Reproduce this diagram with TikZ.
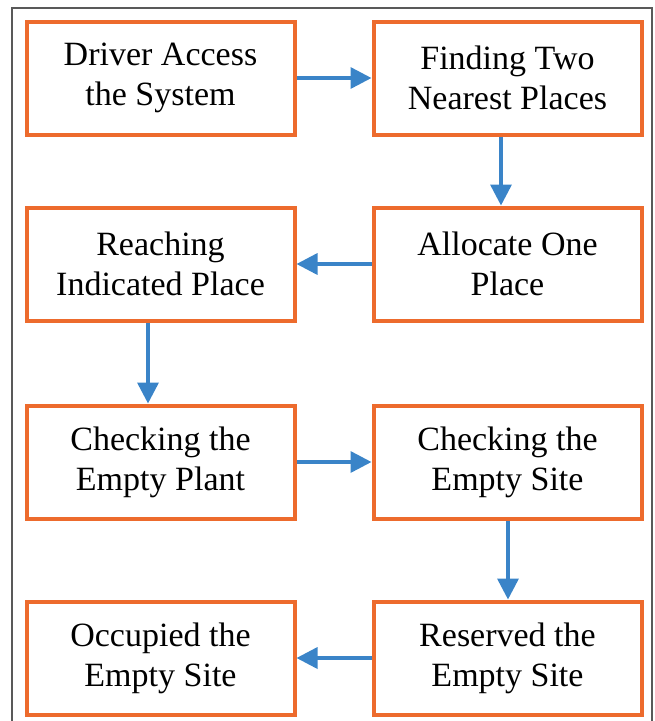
\documentclass[tikz,border=0pt]{standalone}
\usepackage{fontspec}
\setmainfont{Liberation Serif}
\usetikzlibrary{arrows.meta}
\definecolor{boxorange}{RGB}{237,107,45}
\definecolor{arrowblue}{RGB}{58,132,200}
\begin{document}
\begin{tikzpicture}[x=1pt,y=-1pt,
  stepbox/.style={draw=boxorange,line width=4pt,fill=white,minimum width=268pt,minimum height=113pt,
    align=center,font=\fontsize{34}{40}\selectfont,inner sep=0pt},
  flow/.style={draw=arrowblue,line width=3.5pt,-{Triangle[length=21pt,width=21pt]}}]
\useasboundingbox (0,0) rectangle (654,721);
\draw[gray!70!black,line width=1.2pt] (12,730) -- (12,8) -- (652,8) -- (652,730);
\node[stepbox] (b1) at (160.5,78) {Driver Access\\the System};
\node[stepbox] (b2) at (507.5,78) {Finding Two\\Nearest Places};
\node[stepbox] (b3) at (160.5,264) {Reaching\\Indicated Place};
\node[stepbox] (b4) at (507.5,264) {Allocate One\\Place};
\node[stepbox] (b5) at (160.5,462) {Checking the\\Empty Plant};
\node[stepbox] (b6) at (507.5,462) {Checking the\\Empty Site};
\node[stepbox] (b7) at (160.5,658) {Occupied the\\Empty Site};
\node[stepbox] (b8) at (507.5,658) {Reserved the\\Empty Site};
\draw[flow] (b1.east) -- (b2.west);
\draw[flow] (b2.south -| 501,0) -- (b4.north -| 501,0);
\draw[flow] (b4.west) -- (b3.east);
\draw[flow] (b3.south -| 148,0) -- (b5.north -| 148,0);
\draw[flow] (b5.east) -- (b6.west);
\draw[flow] (b6.south -| 508,0) -- (b8.north -| 508,0);
\draw[flow] (b8.west) -- (b7.east);
\end{tikzpicture}
\end{document}
